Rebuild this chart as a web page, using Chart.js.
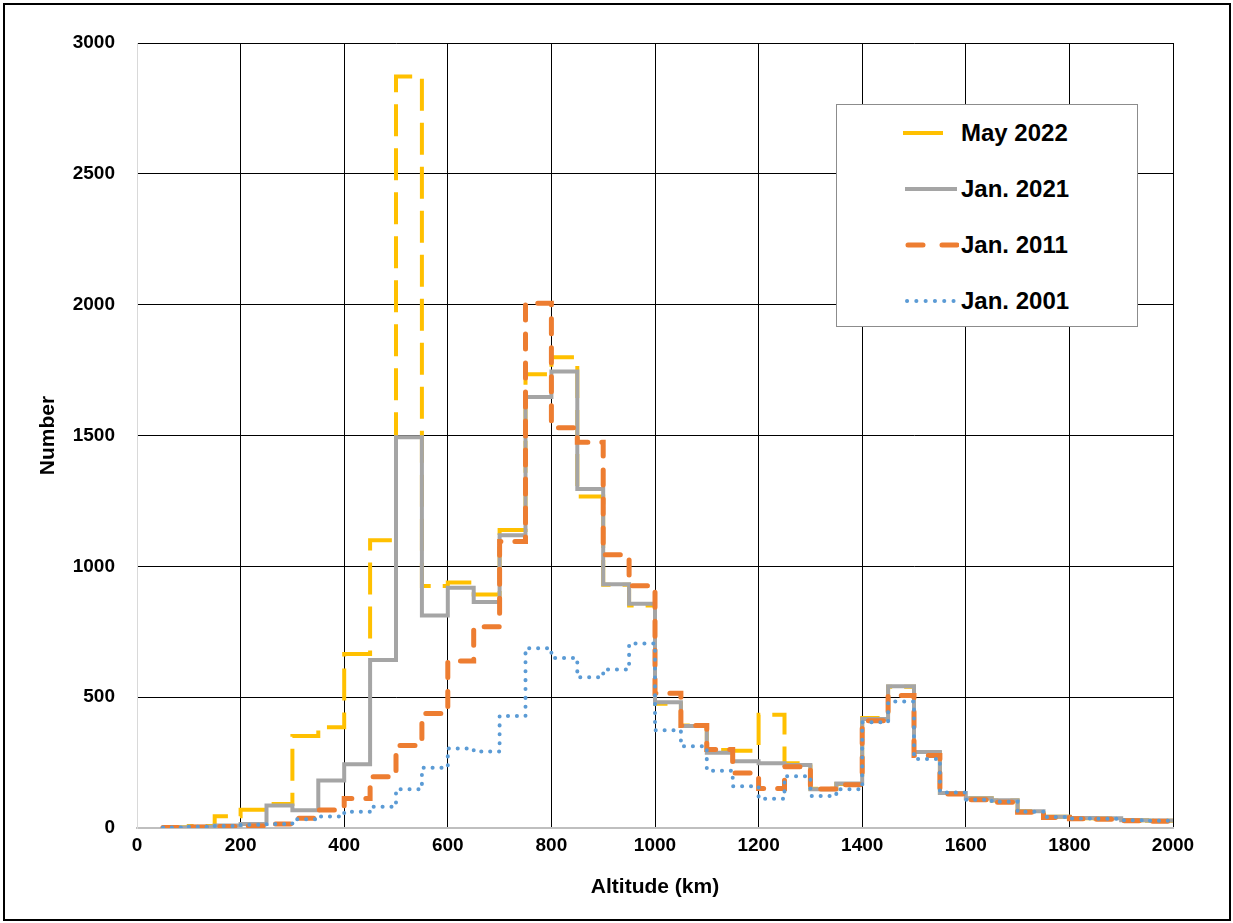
<!DOCTYPE html>
<html>
<head>
<meta charset="utf-8">
<title>Altitude distribution</title>
<script src="https://cdn.jsdelivr.net/npm/chart.js@4.4.1/dist/chart.umd.min.js"></script>
<style>
  html, body { margin: 0; padding: 0; background: #fff; }
  #wrap { position: relative; width: 1233px; height: 923px; background: #fff; }
  #frame { position: absolute; left: 3px; top: 3px; width: 1224px; height: 914px;
           border: 2px solid #000; pointer-events: none; }
  #legend { position: absolute; left: 836px; top: 104px; width: 300px; height: 221px;
            border: 1.5px solid #8c8c8c; background: #fff;
            font-family: "Liberation Sans", Arial, sans-serif; font-weight: bold; font-size: 24px; }
  .row { position: absolute; left: 0; height: 30px; width: 300px; }
  .row svg { position: absolute; left: 62px; top: 0; }
  .row span { position: absolute; left: 124px; top: 1px; line-height: 28px; color: #000; }
</style>
</head>
<body>
<div id="wrap">
  <canvas id="chart" width="1233" height="923"></canvas>
  <div id="legend">
    <div class="row" style="top:13px">
      <svg width="60" height="30"><line x1="4" y1="15" x2="58" y2="15" stroke="#FFC000" stroke-width="4" stroke-dasharray="40 15"/></svg>
      <span>May 2022</span>
    </div>
    <div class="row" style="top:69px">
      <svg width="60" height="30"><line x1="6" y1="15" x2="58" y2="15" stroke="#A5A5A5" stroke-width="4"/></svg>
      <span>Jan. 2021</span>
    </div>
    <div class="row" style="top:125px">
      <svg width="60" height="30"><line x1="9" y1="15" x2="58" y2="15" stroke="#ED7D31" stroke-width="5" stroke-linecap="round" stroke-dasharray="15 19"/></svg>
      <span>Jan. 2011</span>
    </div>
    <div class="row" style="top:181px">
      <svg width="60" height="30"><line x1="8" y1="15" x2="58" y2="15" stroke="#5B9BD5" stroke-width="4" stroke-linecap="round" stroke-dasharray="0.1 9.2"/></svg>
      <span>Jan. 2001</span>
    </div>
  </div>
  <div id="frame"></div>
</div>
<script>
// ── Data: 50 km altitude bins (edges), counts per bin ───────────
const binEdges = [50, 100, 150, 200, 250, 300, 350, 400, 450, 500,
                  550, 600, 650, 700, 750, 800, 850, 900, 950, 1000,
                  1050, 1100, 1150, 1200, 1250, 1300, 1350, 1400, 1450, 1500,
                  1550, 1600, 1650, 1700, 1750, 1800, 1850, 1900, 1950, 2000];

const may2022 = [3, 8, 45, 70, 92, 352, 385, 665, 1100, 2872,
                 925, 938, 892, 1139, 1734, 1799, 1267, 930, 850, 475,
                 392, 298, 295, 433, 247, 150, 168, 420, 540, 288,
                 134, 114, 105, 65, 43, 37, 36, 30, 28];

const jan2021 = [2, 5, 10, 15, 86, 68, 182, 244, 642, 1493,
                 812, 918, 864, 1119, 1647, 1745, 1296, 932, 857, 481,
                 390, 288, 255, 247, 241, 148, 170, 417, 542, 290,
                 134, 114, 106, 64, 43, 38, 37, 30, 29];

const jan2011 = [2, 4, 6, 8, 15, 37, 69, 113, 196, 315,
                 438, 638, 769, 1095, 2005, 1530, 1474, 1044, 926, 515,
                 392, 300, 210, 151, 234, 149, 165, 410, 506, 277,
                 130, 108, 98, 60, 40, 35, 33, 28, 26];

const jan2001 = [2, 5, 8, 12, 15, 33, 44, 62, 81, 148,
                 230, 304, 292, 428, 687, 650, 576, 606, 705, 374,
                 312, 219, 160, 112, 198, 122, 148, 404, 483, 264,
                 136, 108, 100, 62, 42, 36, 35, 30, 28];

const xTicks = [0, 200, 400, 600, 800, 1000, 1200, 1400, 1600, 1800, 2000];
const yTicks = [0, 500, 1000, 1500, 2000, 2500, 3000];

// step points: each bin value starts at its lower edge, last value closes at 2000
const steps = vals => binEdges.map((x, i) => ({ x, y: vals[Math.min(i, vals.length - 1)] }));

const FONT = "'Liberation Sans', Arial, sans-serif";

new Chart(document.getElementById('chart'), {
  type: 'line',
  data: {
    datasets: [
      { label: 'May 2022', data: steps(may2022), borderColor: '#FFC000', borderWidth: 4,
        borderDash: [32, 12], order: 4 },
      { label: 'Jan. 2021', data: steps(jan2021), borderColor: '#A5A5A5', borderWidth: 4,
        order: 3 },
      { label: 'Jan. 2011', data: steps(jan2011), borderColor: '#ED7D31', borderWidth: 5,
        borderDash: [15, 14], borderCapStyle: 'round', order: 2 },
      { label: 'Jan. 2001', data: steps(jan2001), borderColor: '#5B9BD5', borderWidth: 4,
        borderDash: [0.1, 8.8], borderCapStyle: 'round', order: 1 }
    ].map(d => Object.assign({ stepped: 'before', pointRadius: 0, fill: false, tension: 0 }, d))
  },
  options: {
    responsive: false,
    animation: false,
    layout: { padding: { left: 36, top: 43, right: 60, bottom: 0 } },
    plugins: { legend: { display: false }, tooltip: { enabled: false } },
    scales: {
      x: {
        type: 'linear', min: 0, max: 2000,
        afterFit: s => { s.height = 95; },
        afterBuildTicks: s => { s.ticks = xTicks.map(v => ({ value: v })); },
        grid: { color: c => c.tick && c.tick.value === 0 ? 'rgba(0,0,0,0)' : '#000', lineWidth: 1, drawTicks: false },
        border: { color: '#BFBFBF', width: 2 },
        ticks: { color: '#000', padding: 6, maxRotation: 0, callback: v => String(v),
                 font: { family: FONT, size: 19, weight: 'bold' } },
        title: { display: true, text: 'Altitude (km)', color: '#000', padding: { top: 0, bottom: 23 },
                 font: { family: FONT, size: 21, weight: 'bold' } }
      },
      y: {
        min: 0, max: 3000,
        afterFit: s => { s.width = 101; },
        afterBuildTicks: s => { s.ticks = yTicks.map(v => ({ value: v })); },
        grid: { color: c => c.tick && c.tick.value === 0 ? 'rgba(0,0,0,0)' : '#000', lineWidth: 1, drawTicks: false },
        border: { color: '#D9D9D9', width: 1 },
        ticks: { color: '#000', padding: 22, callback: v => String(v),
                 font: { family: FONT, size: 19, weight: 'bold' } },
        title: { display: true, text: 'Number', color: '#000', padding: { top: 0, bottom: 0 },
                 font: { family: FONT, size: 21, weight: 'bold' } }
      }
    }
  }
});
</script>
</body>
</html>
